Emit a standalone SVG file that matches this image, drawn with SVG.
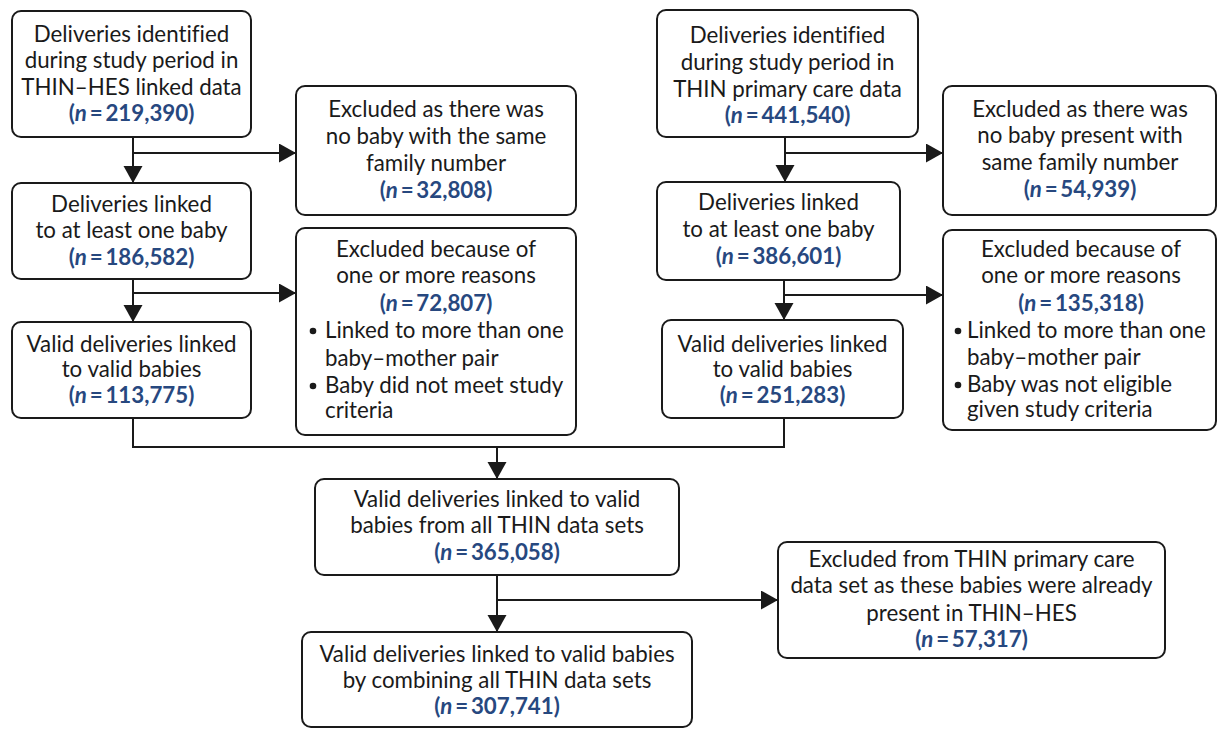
<svg xmlns="http://www.w3.org/2000/svg" width="1219" height="729" viewBox="0 0 1219 729">
<defs>
<style>
.box{fill:#fff;stroke:#1a1a1a;stroke-width:2}
.t{font-family:Lato,"Open Sans","Liberation Sans",sans-serif;font-size:22.3px;fill:#1a1a1a;text-anchor:middle;font-variant-ligatures:none}
.l{text-anchor:start}
.n{font-weight:bold;fill:#27487f}
.i{font-style:italic}
.c{fill:none;stroke:#1a1a1a;stroke-width:2}
</style>
<marker id="ah" markerUnits="userSpaceOnUse" markerWidth="18" markerHeight="20" refX="17" refY="9.5" orient="auto">
<path d="M0,0 L17,9.5 L0,19 z" fill="#1a1a1a"/>
</marker>
</defs>
<rect width="1219" height="729" fill="#fff"/>
<g id="connectors">
<path class="c" d="M133,137 V183" marker-end="url(#ah)"/>
<path class="c" d="M133,153 H296" marker-end="url(#ah)"/>
<path class="c" d="M133,279 V322" marker-end="url(#ah)"/>
<path class="c" d="M133,293 H296" marker-end="url(#ah)"/>
<path class="c" d="M785,137 V182" marker-end="url(#ah)"/>
<path class="c" d="M785,153 H943" marker-end="url(#ah)"/>
<path class="c" d="M784,280 V320" marker-end="url(#ah)"/>
<path class="c" d="M784,295 H943" marker-end="url(#ah)"/>
<path class="c" d="M133,418 V447 H784 V418"/>
<path class="c" d="M497,447 V479" marker-end="url(#ah)"/>
<path class="c" d="M497,575 V632" marker-end="url(#ah)"/>
<path class="c" d="M497,600 H778" marker-end="url(#ah)"/>
</g>
<g id="nodeA">
<rect class="box" x="12" y="11" width="239" height="126" rx="9"/>
<text class="t" x="131.5" y="42">Deliveries identified</text>
<text class="t" x="131.5" y="68">during study period in</text>
<text class="t" x="131.5" y="95">THIN–HES linked data</text>
<text class="t n" x="131.5" y="121">(<tspan class="i">n</tspan>&#8201;=&#8201;219,390)</text>
</g>
<g id="nodeB">
<rect class="box" x="296" y="86" width="280" height="129" rx="9"/>
<text class="t" x="436" y="117">Excluded as there was</text>
<text class="t" x="436" y="144">no baby with the same</text>
<text class="t" x="436" y="171">family number</text>
<text class="t n" x="436" y="198">(<tspan class="i">n</tspan>&#8201;=&#8201;32,808)</text>
</g>
<g id="nodeC">
<rect class="box" x="12" y="183" width="239" height="96" rx="9"/>
<text class="t" x="131.5" y="212">Deliveries linked</text>
<text class="t" x="131.5" y="238">to at least one baby</text>
<text class="t n" x="131.5" y="265">(<tspan class="i">n</tspan>&#8201;=&#8201;186,582)</text>
</g>
<g id="nodeD">
<rect class="box" x="296" y="228" width="280" height="207" rx="9"/>
<text class="t" x="436" y="257">Excluded because of</text>
<text class="t" x="436" y="283">one or more reasons</text>
<text class="t n" x="436" y="311">(<tspan class="i">n</tspan>&#8201;=&#8201;72,807)</text>
<circle cx="313" cy="331" r="3.3" fill="#1a1a1a"/>
<text class="t l" x="325" y="338">Linked to more than one</text>
<text class="t l" x="325" y="366">baby–mother pair</text>
<circle cx="313" cy="386" r="3.3" fill="#1a1a1a"/>
<text class="t l" x="325" y="393">Baby did not meet study</text>
<text class="t l" x="325" y="418">criteria</text>
</g>
<g id="nodeE">
<rect class="box" x="12" y="322" width="239" height="96" rx="9"/>
<text class="t" x="131.5" y="352">Valid deliveries linked</text>
<text class="t" x="131.5" y="377">to valid babies</text>
<text class="t n" x="131.5" y="403">(<tspan class="i">n</tspan>&#8201;=&#8201;113,775)</text>
</g>
<g id="nodeF">
<rect class="box" x="657" y="10" width="261" height="127" rx="9"/>
<text class="t" x="787.5" y="43">Deliveries identified</text>
<text class="t" x="787.5" y="70">during study period in</text>
<text class="t" x="787.5" y="97">THIN primary care data</text>
<text class="t n" x="787.5" y="123">(<tspan class="i">n</tspan>&#8201;=&#8201;441,540)</text>
</g>
<g id="nodeG">
<rect class="box" x="943" y="86" width="273" height="129" rx="9"/>
<text class="t" x="1080" y="117">Excluded as there was</text>
<text class="t" x="1080" y="143">no baby present with</text>
<text class="t" x="1080" y="170">same family number</text>
<text class="t n" x="1080" y="197">(<tspan class="i">n</tspan>&#8201;=&#8201;54,939)</text>
</g>
<g id="nodeH">
<rect class="box" x="657" y="182" width="243" height="98" rx="9"/>
<text class="t" x="778.5" y="210">Deliveries linked</text>
<text class="t" x="778.5" y="237">to at least one baby</text>
<text class="t n" x="778.5" y="264">(<tspan class="i">n</tspan>&#8201;=&#8201;386,601)</text>
</g>
<g id="nodeI">
<rect class="box" x="943" y="230" width="273" height="200" rx="9"/>
<text class="t" x="1081" y="257">Excluded because of</text>
<text class="t" x="1081" y="283">one or more reasons</text>
<text class="t n" x="1081" y="311">(<tspan class="i">n</tspan>&#8201;=&#8201;135,318)</text>
<circle cx="958" cy="331" r="3.3" fill="#1a1a1a"/>
<text class="t l" x="967" y="338">Linked to more than one</text>
<text class="t l" x="967" y="365">baby–mother pair</text>
<circle cx="958" cy="385" r="3.3" fill="#1a1a1a"/>
<text class="t l" x="967" y="392">Baby was not eligible</text>
<text class="t l" x="967" y="417">given study criteria</text>
</g>
<g id="nodeJ">
<rect class="box" x="662" y="320" width="241" height="98" rx="9"/>
<text class="t" x="782.5" y="352">Valid deliveries linked</text>
<text class="t" x="782.5" y="377">to valid babies</text>
<text class="t n" x="782.5" y="403">(<tspan class="i">n</tspan>&#8201;=&#8201;251,283)</text>
</g>
<g id="nodeK">
<rect class="box" x="315" y="479" width="364" height="96" rx="9"/>
<text class="t" x="497" y="507">Valid deliveries linked to valid</text>
<text class="t" x="497" y="533">babies from all THIN data sets</text>
<text class="t n" x="497" y="560">(<tspan class="i">n</tspan>&#8201;=&#8201;365,058)</text>
</g>
<g id="nodeL">
<rect class="box" x="302" y="632" width="390" height="95" rx="9"/>
<text class="t" x="497" y="662">Valid deliveries linked to valid babies</text>
<text class="t" x="497" y="688">by combining all THIN data sets</text>
<text class="t n" x="497" y="714">(<tspan class="i">n</tspan>&#8201;=&#8201;307,741)</text>
</g>
<g id="nodeM">
<rect class="box" x="778" y="542" width="387" height="116" rx="9"/>
<text class="t" x="971.5" y="567">Excluded from THIN primary care</text>
<text class="t" x="971.5" y="593">data set as these babies were already</text>
<text class="t" x="971.5" y="621">present in THIN–HES</text>
<text class="t n" x="971.5" y="647">(<tspan class="i">n</tspan>&#8201;=&#8201;57,317)</text>
</g>
</svg>
